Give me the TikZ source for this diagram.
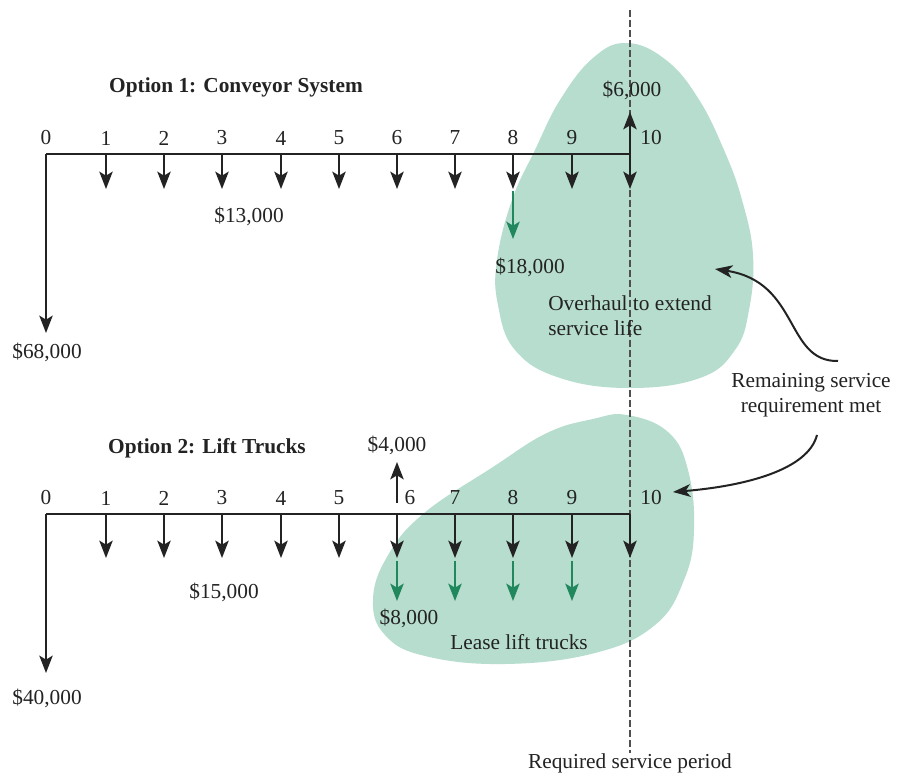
\documentclass[tikz,border=0pt]{standalone}
\usepackage{fontspec}
\setmainfont{Liberation Serif}
\usetikzlibrary{arrows.meta}
\definecolor{blobc}{RGB}{182,221,206}
\definecolor{grarr}{RGB}{32,136,92}
\definecolor{ink}{RGB}{35,35,35}
\begin{document}
\begin{tikzpicture}[x=0.75pt,y=-0.75pt,
  font=\fontsize{16}{19}\selectfont,
  arr/.style={draw=ink, line width=1.6pt, -{Stealth[length=13pt,width=10pt,inset=3pt]}},
  garr/.style={draw=grarr, line width=1.6pt, -{Stealth[length=13pt,width=10pt,inset=3pt]}},
  carr/.style={draw=ink, line width=1.5pt, -{Stealth[length=13pt,width=9.5pt,inset=3.5pt]}},
  axisline/.style={draw=ink, line width=1.2pt},
  lbl/.style={text=ink, inner sep=0pt},
  ttl/.style={text=ink, inner sep=0pt, font=\fontsize{16}{19}\selectfont\bfseries},
  blob/.style={fill=blobc},
  dashline/.style={draw=ink!80, line width=0.9pt, dash pattern=on 5pt off 2.5pt}]
\useasboundingbox[fill=white] (0,0) rectangle (908,777);

% green regions
\fill[blob] plot[smooth cycle, tension=0.7] coordinates {(627,43) (666,60) (698,98) (724,150) (742,200) (753,255) (749,310) (735,350) (700,378) (630,388) (560,378) (515,350) (498,305) (497,260) (512,200) (535,150) (560,100) (593,58)};
\fill[blob] plot[smooth cycle, tension=0.7] coordinates {(627,415) (668,432) (688,470) (694,530) (684,580) (655,625) (595,653) (505,664) (425,656) (385,635) (373,600) (387,557) (423,514) (493,467) (547,433) (593,419)};

% required service period line
\coordinate (dtop) at (630,10);
\node[lbl] (req) at (630,763) {Required service period};
\draw[dashline] (dtop) -- (req.north);

% coordinates of time points
\foreach \i/\x in {0/46,1/106,2/164,3/222,4/281,5/339,6/397,7/455,8/513,9/572,10/630}{
  \coordinate (A\i) at (\x,154);
  \coordinate (Ad\i) at (\x,189);
  \coordinate (B\i) at (\x,514);
  \coordinate (Bd\i) at (\x,558);
}

% ---------- Option 1 ----------
\node[ttl] (t1) at (236,87) {Option 1: Conveyor System};
\foreach \i/\x in {0/46,1/106,2/164,3/222,4/281,5/339,6/397,7/455,8/513,9/572}{
  \node[lbl] (na\i) at (\x,138) {\i};
}
\node[lbl] (na10) at (651,138) {10};
\draw[axisline] (A0) -- (A10);
\foreach \i in {1,...,10}{ \draw[arr] (A\i) -- (Ad\i); }
\node[lbl] (m68) at (47,352) {\$68,000};
\coordinate (A0e) at (46,333);
\draw[arr] (A0) -- (A0e);
\node[lbl] (m13) at (249,216) {\$13,000};
\coordinate (g8s) at (513,191);
\coordinate (g8e) at (513,239);
\draw[garr] (g8s) -- (g8e);
\node[lbl] (m18) at (530,267) {\$18,000};
\node[lbl] (p6) at (632,90) {\$6,000};
\coordinate (up10) at (630,112);
\draw[arr] (A10) -- (up10);
\node[lbl, align=left, anchor=west] (ovh) at (548,316) {Overhaul to extend\\service life};

% remaining service note
\node[lbl, align=center] (rem) at (811,395) {Remaining service\\requirement met};
\coordinate (c1tail) at (838,361);
\coordinate (c1head) at (715,269);
\draw[carr] (c1tail) .. controls (785,362) and (800,282) .. (c1head);
\coordinate (c2tail) at (817,435);
\coordinate (c2head) at (673,492);
\draw[carr] (c2tail) .. controls (808,470) and (745,486) .. (c2head);

% ---------- Option 2 ----------
\node[ttl] (t2) at (207,448) {Option 2: Lift Trucks};
\foreach \i/\x in {0/46,1/106,2/164,3/222,4/281,5/339,7/455,8/513,9/572}{
  \node[lbl] (nb\i) at (\x,498) {\i};
}
\node[lbl] (nb6) at (410,498) {6};
\node[lbl] (nb10) at (651,498) {10};
\draw[axisline] (B0) -- (B10);
\foreach \i in {1,...,10}{ \draw[arr] (B\i) -- (Bd\i); }
\coordinate (B0e) at (46,673);
\draw[arr] (B0) -- (B0e);
\node[lbl] (m40) at (47,698) {\$40,000};
\node[lbl] (m15) at (224,592) {\$15,000};
\node[lbl] (p4) at (397,445) {\$4,000};
\coordinate (u6s) at (397,503);
\coordinate (u6e) at (397,462);
\draw[arr] (u6s) -- (u6e);
\foreach \i/\x in {6/397,7/455,8/513,9/572}{
  \coordinate (gs\i) at (\x,561);
  \coordinate (ge\i) at (\x,601);
  \draw[garr] (gs\i) -- (ge\i);
}
\node[lbl] (m8) at (409,618) {\$8,000};
\node[lbl] (lease) at (519,642) {Lease lift trucks};
\end{tikzpicture}
\end{document}
